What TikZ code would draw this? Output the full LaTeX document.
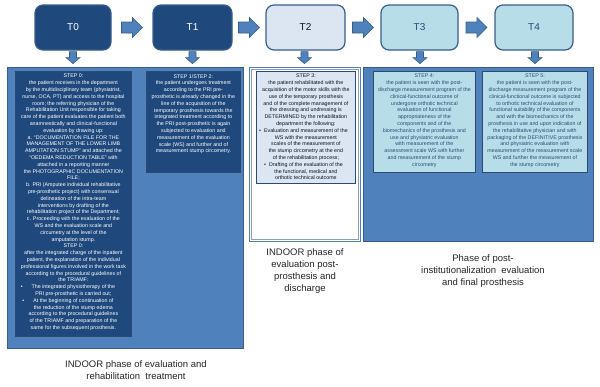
\documentclass[tikz,border=0pt]{standalone}
\usepackage{fontspec}
\setmainfont{Liberation Sans}
\usetikzlibrary{calc}
\definecolor{dkblue}{HTML}{1F497D}
\definecolor{mdblue}{HTML}{4F81BD}
\definecolor{edgeblue}{HTML}{385D8A}
\definecolor{ltblue}{HTML}{DCE6F2}
\definecolor{aqua}{HTML}{B7DEE8}
\definecolor{aquatext}{HTML}{2B4A78}
\definecolor{labelgray}{HTML}{262626}
\begin{document}
\begin{tikzpicture}[x=1pt,y=-1pt,
  tbox/.style={rounded corners=8pt, draw=edgeblue, line width=1.2pt, minimum height=45pt, inner sep=0pt, font=\fontsize{10}{12}\selectfont},
  panel/.style={draw=edgeblue, line width=1.2pt, fill=mdblue, anchor=north west, inner sep=0pt},
  inbox/.style={draw=edgeblue!80!black, line width=0.8pt, anchor=north west, inner sep=0pt},
  txt/.style={anchor=north, align=center, inner sep=0pt, font=\fontsize{5.3}{6.8}\selectfont},
  lbl/.style={align=center, inner sep=0pt, text=labelgray, font=\fontsize{9.5}{12}\selectfont},
  arrowshape/.style={fill=mdblue, draw=edgeblue, line width=0.6pt},
  rarr/.pic={\draw[arrowshape] (-10.5,-5.5) -- (0.5,-5.5) -- (0.5,-10) -- (10.5,0) -- (0.5,10) -- (0.5,5.5) -- (-10.5,5.5) -- cycle;},
  darr/.pic={\draw[arrowshape] (-3.5,-6) -- (3.5,-6) -- (3.5,0) -- (7,0) -- (0,6) -- (-7,0) -- (-3.5,0) -- cycle;}
]
\useasboundingbox (0,0) rectangle (600,386);

% top boxes
\node[tbox, fill=dkblue, text=white, minimum width=76pt] (T0) at (73,27.5) {T0};
\node[tbox, fill=dkblue, text=white, minimum width=79pt] (T1) at (192.5,27.5) {T1};
\node[tbox, fill=ltblue, text=black!70!dkblue, minimum width=79pt] (T2) at (305.5,27.5) {T2};
\node[tbox, fill=aqua, text=aquatext, minimum width=77pt] (T3) at (419.5,27.5) {T3};
\node[tbox, fill=aqua, text=aquatext, minimum width=78pt] (T4) at (534,27.5) {T4};

% right arrows
\pic at ($(T0.east)!0.5!(T1.west)$) {rarr};
\pic at ($(T1.east)!0.5!(T2.west)$) {rarr};
\pic at ($(T2.east)!0.5!(T3.west)$) {rarr};
\pic at ($(T3.east)!0.5!(T4.west)$) {rarr};

% down arrows
\pic at ($(T0.south)+(0,7)$) {darr};
\pic at ($(T1.south)+(0,7)$) {darr};
\pic at ($(T2.south)+(-1,7)$) {darr};
\pic at ($(T3.south)+(0.5,7)$) {darr};
\pic at ($(T4.south)+(1,7)$) {darr};

% panels
\node[panel, minimum width=236pt, minimum height=281pt] (P1) at (7,67) {};
\node[panel, fill=white, draw=mdblue, minimum width=111pt, minimum height=174pt] (P2) at (249,67) {};
\draw[draw=edgeblue!60, line width=0.6pt] ($(P2.north west)+(2.5,2.5)$) rectangle ($(P2.south east)+(-2.5,-2.5)$);
\node[panel, minimum width=230pt, minimum height=174pt] (P3) at (363,67) {};

% inner boxes
\node[inbox, fill=dkblue, minimum width=116pt, minimum height=265pt] (B0) at (15,71) {};
\node[inbox, fill=dkblue, minimum width=94pt, minimum height=101pt] (B1) at (146,71) {};
\node[inbox, fill=ltblue, minimum width=99pt, minimum height=112pt] (B2) at (256,71) {};
\node[inbox, fill=aqua, minimum width=102pt, minimum height=101pt] (B3) at (373,71) {};
\node[inbox, fill=aqua, minimum width=105pt, minimum height=101pt] (B4) at (482,71) {};

% texts
\node[txt, text=white] (S0) at ($(B0.north)+(0,3)$) {STEP 0:\\
the patient receives in the department\\
by the multidisciplinary team (physiatrist,\\
nurse, OCA, PT) and access to the hospital\\
room; the referring physician of the\\
Rehabilitation Unit responsible for taking\\
care of the patient evaluates the patient both\\
anamnestically and clinical-functional\\
evaluation by drawing up:\\
a. ``DOCUMENTATION FILE FOR THE\\
MANAGEMENT OF THE LOWER LIMB\\
AMPUTATION STUMP'' and attached the\\
``OEDEMA REDUCTION TABLE'' with\\
attached in a reporting manner\\
the PHOTOGRAPHIC DOCUMENTATION\\
FILE;\\
b. PRI (Amputee individual rehabilitative\\
pre-prosthetic project) with consensual\\
delineation of the intra-team\\
interventions by drafting of the\\
rehabilitation project of the Department;\\
c. Proceeding with the evaluation of the\\
WS and the evaluation scale and\\
circumetry at the level of the\\
amputation stump.\\
STEP 0:\\
after the integrated charge of the inpatient\\
patient, the explanation of the individual\\
professional figures involved in the work task\\
according to the procedural guidelines of\\
the TRIAMF:\\
\llap{\textbullet\hspace{9pt}}The integrated physiotherapy of the\\
PRI pre-prosthetic is carried out;\\
\llap{\textbullet\hspace{9pt}}At the beginning of continuation of\\
the reduction of the stump edema\\
according to the procedural guidelines\\
of the TRIAMF and preparation of the\\
same for the subsequent prosthesis.};

\node[txt, text=white] (S1) at ($(B1.north)+(0,3)$) {STEP 1/STEP 2:\\
the patient undergoes treatment\\
according to the PRI pre-\\
prosthetic is already changed in the\\
line of the acquisition of the\\
temporary prosthesis towards the\\
integrated treatment according to\\
the PRI post-prosthetic is again\\
subjected to evaluation and\\
measurement of the evaluation\\
scale (WS) and further and of\\
measurement stump circometry.};

\node[txt, text=black!75!dkblue] (S2) at ($(B2.north)+(0,3)$) {STEP 3:\\
the patient rehabilitated with the\\
acquisition of the motor skills with the\\
use of the temporary prosthesis\\
and of the complete management of\\
the dressing and undressing is\\
DETERMINED by the rehabilitation\\
department the following:\\
\llap{\textbullet\hspace{3pt}}Evaluation and measurement of the\\
WS with the measurement\\
scales of the measurement of\\
the stump circometry at the end\\
of the rehabilitation process;\\
\llap{\textbullet\hspace{3pt}}Drafting of the evaluation of the\\
the functional, medical and\\
orthotic technical outcome};

\node[txt, text=aquatext] (S3) at ($(B3.north)+(0,3)$) {STEP 4:\\
the patient is seen with the post-\\
discharge measurement program of the\\
clinical-functional outcome of\\
undergone orthotic technical\\
evaluation of functional\\
appropriateness of the\\
components and of the\\
biomechanics of the prosthesis and\\
use and physiatric evaluation\\
with measurement of the\\
assessment scale WS with further\\
and measurement of the stump\\
circometry};

\node[txt, text=aquatext] (S4) at ($(B4.north)+(0,3)$) {STEP 5:\\
the patient is seen with the post-\\
discharge measurement program of the\\
clinical-functional outcome is subjected\\
to orthotic technical evaluation of\\
functional suitability of the components\\
and with the biomechanics of the\\
prosthesis in use and upon indication of\\
the rehabilitative physician and with\\
packaging of the DEFINITIVE prosthesis\\
and physiatric evaluation with\\
measurement of the measurement scale\\
WS and further the measurement of\\
the stump circometry};

% phase labels
\node[lbl] (L1) at (136,370) {INDOOR phase of evaluation and\\rehabilitation\ \ treatment};
\node[lbl] (L2) at (305,271) {INDOOR phase of\\evaluation post-\\prosthesis and\\discharge};
\node[lbl] (L3) at (483,271) {Phase of post-\\institutionalization\ \ evaluation\\and final prosthesis};
\end{tikzpicture}
\end{document}
